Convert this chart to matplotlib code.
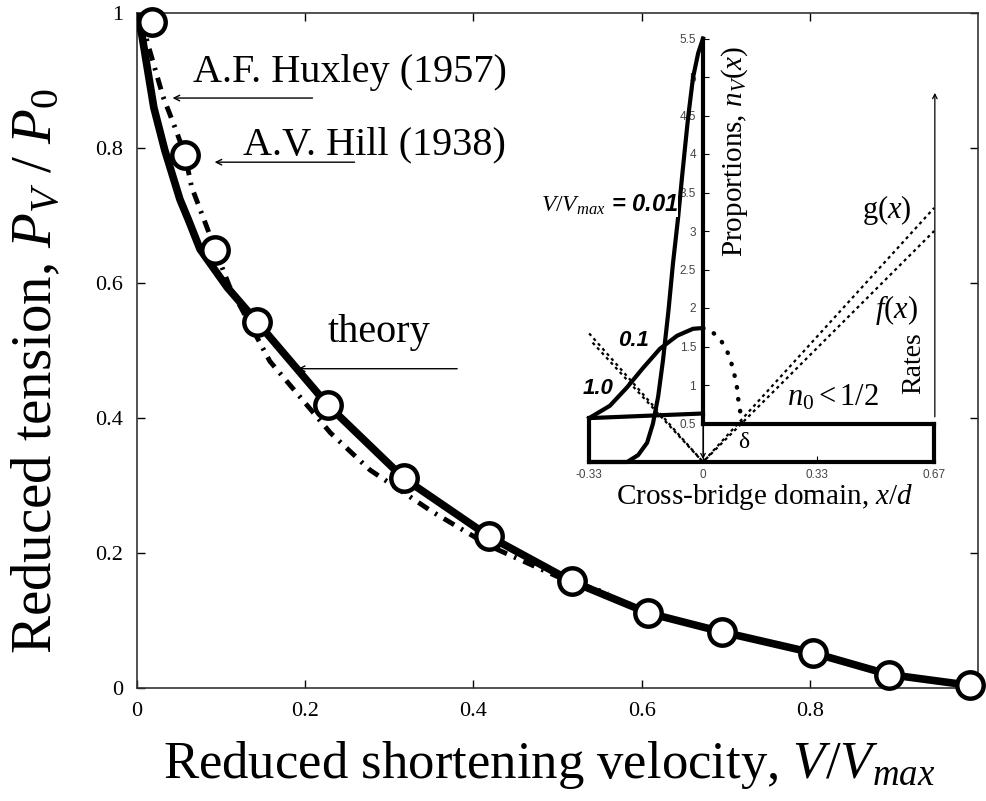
import matplotlib.pyplot as plt

plt.rcParams['font.family'] = ['Liberation Serif', 'DejaVu Serif']
plt.rcParams['mathtext.fontset'] = 'custom'
plt.rcParams['mathtext.rm'] = 'Liberation Serif'
plt.rcParams['mathtext.it'] = 'Liberation Serif:italic'
plt.rcParams['mathtext.bf'] = 'Liberation Serif:bold'

# --- main panel data ---
hill_v = [0.018, 0.057, 0.093, 0.143, 0.227, 0.317, 0.418, 0.517, 0.608, 0.696, 0.804, 0.894, 0.990]
hill_p = [0.987, 0.790, 0.649, 0.542, 0.419, 0.311, 0.225, 0.158, 0.111, 0.083, 0.052, 0.019, 0.004]

theory_v = [0.0, 0.006, 0.020, 0.033, 0.051, 0.061, 0.075, 0.107, 0.143, 0.227, 0.317,
            0.418, 0.517, 0.608, 0.696, 0.804, 0.894, 0.990]
theory_p = [1.0, 0.966, 0.860, 0.797, 0.724, 0.694, 0.650, 0.594, 0.542, 0.419, 0.311,
            0.225, 0.158, 0.111, 0.083, 0.052, 0.020, 0.004]

huxley_v = [0.005, 0.015, 0.031, 0.045, 0.057, 0.065, 0.083, 0.093, 0.110, 0.158, 0.194,
            0.230, 0.277, 0.350, 0.420, 0.500, 0.560]
huxley_p = [0.990, 0.945, 0.876, 0.831, 0.790, 0.742, 0.683, 0.649, 0.595, 0.484, 0.431,
            0.378, 0.323, 0.262, 0.210, 0.165, 0.140]

x_ticks = [0, 0.2, 0.4, 0.6, 0.8]
x_ticklabels = ['0', '0.2', '0.4', '0.6', '0.8']
y_ticks = [0, 0.2, 0.4, 0.6, 0.8, 1.0]
y_ticklabels = ['0', '0.2', '0.4', '0.6', '0.8', '1']

# --- inset data: cross-bridge distributions and rates ---
n001_x = [-0.33, -0.22, -0.188, -0.162, -0.145, -0.13, -0.116, -0.10, -0.087, -0.072,
          -0.061, -0.052, -0.043, -0.029, -0.014, 0.0]
n001_y = [0.0, 0.0, 0.09, 0.25, 0.5, 0.85, 1.32, 1.97, 2.58, 3.18,
          3.69, 4.09, 4.48, 4.99, 5.31, 5.5]

n01_x = [-0.33, -0.27, -0.22, -0.174, -0.125, -0.075, -0.029, 0.0]
n01_y = [0.57, 0.73, 0.97, 1.22, 1.47, 1.64, 1.73, 1.74]
n01_tail_x = [0.0, 0.029, 0.049, 0.064, 0.078, 0.087, 0.097, 0.101, 0.107, 0.113]
n01_tail_y = [1.74, 1.68, 1.60, 1.49, 1.36, 1.20, 1.03, 0.85, 0.68, 0.50]

n10_x = [-0.33, -0.165, 0.0]
n10_y = [0.57, 0.60, 0.63]

n_max = 5.5
n0_level = 0.5
domain = [-0.33, 0.67]

g_x = [-0.33, 0.0, 0.67]
g_y = [1.67, 0.0, 3.30]
f_x = [-0.32, 0.0, 0.67]
f_y = [1.55, 0.0, 3.00]

prop_ticks = [0.5, 1, 1.5, 2, 2.5, 3, 3.5, 4, 4.5, 5, 5.5]
prop_labels = ['0.5', '1', '1.5', '2', '2.5', '3', '3.5', '4', '4.5', '5', '5.5']
dom_ticks = [-0.33, 0, 0.33, 0.67]
dom_labels = ['-0.33', '0', '0.33', '0.67']

fig = plt.figure(figsize=(9.87, 8.01), dpi=100)
ax = fig.add_axes([137 / 987, 1 - 688 / 801, 841 / 987, 675 / 801])

ax.plot(huxley_v, huxley_p, color='black', lw=3.5, ls=(0, (2.5, 1.6, 0.5, 1.6)), zorder=2)
ax.plot(theory_v, theory_p, color='black', lw=5.5, solid_capstyle='round', zorder=3)
ax.plot(hill_v, hill_p, 'o', ms=19, mfc='white', mec='black', mew=3.2, zorder=4, clip_on=False)

ax.set_xlim(0, 1)
ax.set_ylim(0, 1)
ax.set_xticks(x_ticks)
ax.set_xticklabels(x_ticklabels)
ax.set_yticks(y_ticks)
ax.set_yticklabels(y_ticklabels)
ax.tick_params(direction='in', top=True, right=True, length=6, width=1, labelsize=16, pad=10)
for s in ax.spines.values():
    s.set_linewidth(1.2)
    s.set_color('#333333')

ax.set_xlabel(r'Reduced shortening velocity, $V/V_{max}$', fontsize=38)
ax.xaxis.set_label_coords(0.49, -0.075)
ax.set_ylabel(r'Reduced tension, $P_V\ /\ P_{\mathit{0}}$', fontsize=41)
ax.yaxis.set_label_coords(-0.088, 0.47)

arrow = dict(arrowstyle='->', lw=1.0, color='black', mutation_scale=10)
ax.text(0.067, 0.898, 'A.F. Huxley (1957)', fontsize=29)
ax.annotate('', xy=(0.039, 0.874), xytext=(0.212, 0.874), arrowprops=arrow)
ax.text(0.126, 0.791, 'A.V. Hill (1938)', fontsize=29)
ax.annotate('', xy=(0.089, 0.779), xytext=(0.262, 0.779), arrowprops=arrow)
ax.text(0.227, 0.513, 'theory', fontsize=29)
ax.annotate('', xy=(0.188, 0.473), xytext=(0.384, 0.473), arrowprops=arrow)

# --- inset ---
ins = fig.add_axes([558.1 / 987, 1 - 515.9 / 801, 414 / 987, 515.9 / 801])
ins.set_xlim(-0.42, 0.78)
ins.set_ylim(-0.7, 6.0)
ins.patch.set_visible(False)
ins.spines['top'].set_visible(False)
ins.spines['right'].set_visible(False)
ins.spines['left'].set_position(('data', 0))
ins.spines['bottom'].set_position(('data', 0))
ins.spines['left'].set_bounds(0, n_max)
ins.spines['bottom'].set_bounds(domain[0], domain[1])
ins.set_yticks(prop_ticks)
ins.set_yticklabels(prop_labels, family='Liberation Sans')
ins.set_xticks(dom_ticks)
ins.set_xticklabels(dom_labels, family='Liberation Sans')
ins.tick_params(direction='in', length=4, width=0.8, labelsize=8.5, labelcolor='#444444', pad=5)

thick = 3.0
# box of the domain
ins.plot([domain[0], domain[1]], [0, 0], color='black', lw=thick, zorder=3)
ins.plot([domain[0], domain[0]], [0, n01_y[0]], color='black', lw=thick, zorder=3)
ins.plot([domain[1], domain[1]], [0, n0_level], color='black', lw=thick, zorder=3)
ins.plot([0, domain[1]], [n0_level, n0_level], color='black', lw=thick, zorder=3)
ins.plot([0, 0], [n0_level, n_max], color='black', lw=thick, zorder=3)

ins.plot(g_x, g_y, color='black', lw=1.6, ls=(0, (1.4, 1.6)), zorder=2)
ins.plot(f_x, f_y, color='black', lw=1.6, ls=(0, (1.4, 1.6)), zorder=2)

ins.plot(n001_x, n001_y, color='black', lw=thick, zorder=3)
ins.plot(n01_x, n01_y, color='black', lw=thick, zorder=3)
ins.plot(n01_tail_x, n01_tail_y, color='black', lw=3.2, ls=(0, (0.1, 2.6)),
         dash_capstyle='round', zorder=3)
ins.plot(n10_x, n10_y, color='black', lw=thick, zorder=3)

ins.annotate('', xy=(0, 0), xytext=(0, n0_level),
             arrowprops=dict(arrowstyle='->', lw=0.9, color='black', mutation_scale=8))
ins.annotate('', xy=(0.672, 4.83), xytext=(0.672, 0.55),
             arrowprops=dict(arrowstyle='->', lw=0.9, color='black', mutation_scale=8))

ins.text(-0.072, 3.34, r'$V/V_{max}$ = 0.01', family='Liberation Sans', style='italic',
         weight='bold', fontsize=17, ha='right', va='center', zorder=5,
         bbox=dict(facecolor='white', edgecolor='none', pad=0))
ins.text(-0.2, 1.58, '0.1', family='Liberation Sans', style='italic', weight='bold',
         fontsize=16, ha='center', va='center', zorder=5)
ins.text(-0.305, 0.95, '1.0', family='Liberation Sans', style='italic', weight='bold',
         fontsize=16, ha='center', va='center', zorder=5)
ins.text(0.093, 4.04, r'Proportions, $n_V(x)$', rotation=90, fontsize=21,
         ha='center', va='center')
ins.text(0.18, -0.455, r'Cross-bridge domain, $x/d$', fontsize=21, ha='center', va='center')
ins.text(0.61, 1.29, 'Rates', rotation=90, fontsize=20, ha='center', va='center')
ins.text(0.533, 3.27, r'g$(x)$', fontsize=22, ha='center', va='center')
ins.text(0.562, 1.97, r'$f(x)$', fontsize=22, ha='center', va='center')
ins.text(0.377, 0.83, r'$n_{\mathit{0}}<\mathit{1/2}$', fontsize=22, ha='center', va='center')
ins.text(0.118, 0.25, 'δ', fontsize=17, ha='center', va='center')

fig.savefig('out.png', dpi=100)
